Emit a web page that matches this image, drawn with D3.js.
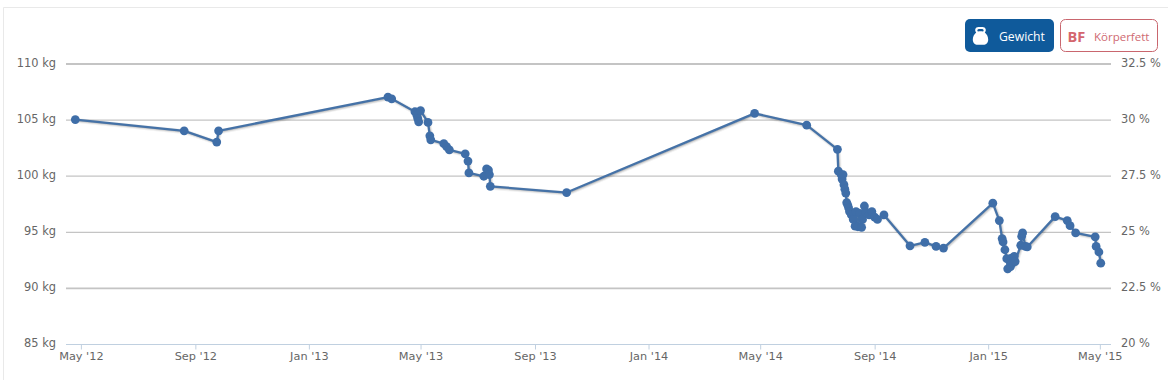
<!DOCTYPE html>
<html><head><meta charset="utf-8">
<script src="https://cdn.jsdelivr.net/npm/d3@7/dist/d3.min.js"></script>
<style>
html,body{margin:0;padding:0;background:#fff;}
svg{display:block;}
text{font-family:"DejaVu Sans",sans-serif;}
</style></head><body>
<svg id="c" width="1168" height="380"></svg>
<script>
const dates = ["2012-04-25","2012-08-20","2012-09-24","2012-09-26","2013-03-27","2013-03-31","2013-04-25","2013-04-27","2013-04-28","2013-04-29","2013-05-01","2013-05-09","2013-05-11","2013-05-12","2013-05-26","2013-05-29","2013-06-01","2013-06-18","2013-06-21","2013-06-22","2013-07-08","2013-07-11","2013-07-13","2013-07-14","2013-07-15","2013-10-05","2014-04-25","2014-06-20","2014-07-23","2014-07-24","2014-07-27","2014-07-28","2014-07-29","2014-07-30","2014-07-31","2014-08-01","2014-08-02","2014-08-03","2014-08-04","2014-08-05","2014-08-07","2014-08-09","2014-08-11","2014-08-12","2014-08-14","2014-08-16","2014-08-18","2014-08-19","2014-08-21","2014-08-22","2014-08-26","2014-08-29","2014-09-01","2014-09-04","2014-09-11","2014-10-09","2014-10-25","2014-11-06","2014-11-14","2015-01-06","2015-01-13","2015-01-16","2015-01-17","2015-01-19","2015-01-21","2015-01-22","2015-01-25","2015-01-26","2015-01-27","2015-01-29","2015-01-30","2015-02-05","2015-02-06","2015-02-07","2015-02-10","2015-02-12","2015-03-14","2015-03-27","2015-03-30","2015-04-05","2015-04-26","2015-04-27","2015-04-30","2015-05-02"];
const weightKg = [105,104,103,104,107,106.85,105.7,105.4,105.1,104.8,105.8,104.75,103.55,103.2,102.85,102.6,102.3,101.95,101.3,100.25,99.95,100.6,100.5,100.1,99.05,98.5,105.55,104.5,102.35,100.4,100.1,99.7,100.1,99.2,98.8,98.45,97.6,97.4,97.15,96.8,96.5,96.1,95.5,96.8,95.45,96.65,95.4,96.1,97.3,96.8,96.5,96.8,96.3,96.1,96.5,93.75,94.05,93.7,93.55,97.55,96,94.4,94.1,93.4,92.6,91.7,91.9,92.65,92.2,92.8,92.35,93.8,94.6,94.9,93.7,93.65,96.35,96,95.55,94.9,94.55,93.7,93.2,92.2];
const kgTicks = [85,90,95,100,105,110];
const pctTicks = [20,22.5,25,27.5,30,32.5];
const buttonLabels = ["Gewicht","Körperfett"];
const badgeLabel = "BF";

const parse = d3.utcParse("%Y-%m-%d");
const fmtMon = d3.utcFormat("%b '%y");
const pts = dates.map((d,i)=>({date:parse(d),kg:weightKg[i]}));

const L=66,R=1111,T=63.5,B=344;
const x = d3.scaleUtc().domain([parse("2012-04-15"),parse("2015-05-13")]).range([L,R]);
const yKg = d3.scaleLinear().domain([85,110]).range([B,T]);
const yPct = d3.scaleLinear().domain([20,32.5]).range([B,T]);

const svg = d3.select("#c");

// outer frame
svg.append("path").attr("d","M3.5,380V7.5H1168").attr("fill","none").attr("stroke","#e9e9e9");

// left axis + grid
const gl = svg.append("g").attr("transform",`translate(${L},0)`)
  .call(d3.axisLeft(yKg).tickValues(kgTicks).tickSize(-(R-L)).tickPadding(10).tickFormat(d=>d+" kg"));
gl.select(".domain").remove();
gl.selectAll("line").attr("stroke","#c4c4c4").attr("stroke-width",d=>d===85?0:(d===110||d===90?1.8:1.3));
gl.selectAll("text").attr("fill","#666").attr("font-size",11.4).attr("dy","0.25em");

// right axis
const gr = svg.append("g").attr("transform",`translate(${R},0)`)
  .call(d3.axisRight(yPct).tickValues(pctTicks).tickSize(0).tickPadding(10).tickFormat(d=>d+" %"));
gr.select(".domain").remove();
gr.selectAll("text").attr("fill","#666").attr("font-size",11.4).attr("dy","0.25em");

// x axis
const gx = svg.append("g").attr("transform",`translate(0,${B+0.5})`)
  .call(d3.axisBottom(x).ticks(d3.utcMonth.every(4)).tickSize(5).tickPadding(2).tickFormat(fmtMon));
gx.select(".domain").attr("stroke","#c0d0e0").attr("d",`M${L},0H${R}`);
gx.selectAll("line").attr("stroke","#c0d0e0");
gx.selectAll("text").attr("fill","#666").attr("font-size",11.3);

// line
const line = d3.line().x(d=>x(d.date)).y(d=>yKg(d.kg));
[[5,.05],[3,.1],[1,.15]].forEach(([w,o])=>{
  svg.append("path").datum(pts).attr("d",line).attr("fill","none")
    .attr("stroke","#000").attr("stroke-opacity",o).attr("stroke-width",w)
    .attr("transform","translate(1,1)");
});
svg.append("path").datum(pts).attr("d",line).attr("fill","none")
  .attr("stroke","#4572a7").attr("stroke-width",2.3).attr("stroke-linejoin","round");
svg.append("g").selectAll("circle").data(pts).join("circle")
  .attr("cx",d=>x(d.date)).attr("cy",d=>yKg(d.kg)).attr("r",4.4).attr("fill","#3f6ea8");

// buttons
const b1 = svg.append("g");
b1.append("rect").attr("x",965).attr("y",19).attr("width",89).attr("height",33).attr("rx",5).attr("fill","#0f5a9b");
b1.append("path").attr("fill","#fff").attr("fill-rule","evenodd")
  .attr("d","M976.2,32.6C975.4,31.6 975,30.4 975.3,29.2C975.7,27.8 977,27 978.4,27H982.6C984,27 985.3,27.8 985.7,29.2C986,30.4 985.6,31.6 984.8,32.6C986.8,34.4 988.2,36.8 988.2,39.4C988.2,42.8 986,44.7 983.4,44.7H977.6C975,44.7 972.8,42.8 972.8,39.4C972.8,36.8 974.2,34.4 976.2,32.6ZM979,28.9C977.4,28.9 976.7,30.8 978,31.6C979.8,31.1 981.2,31.1 983,31.6C984.3,30.8 983.6,28.9 982,28.9Z");
b1.append("text").attr("x",999).attr("y",40.5).attr("fill","#fff").attr("font-size",12.2)
  .style("font-family","'Open Sans',sans-serif").text(buttonLabels[0]);

const b2 = svg.append("g");
b2.append("rect").attr("x",1060.5).attr("y",19.5).attr("width",97).attr("height",32).attr("rx",5).attr("fill","#fff").attr("stroke","#c9666e");
b2.append("text").attr("x",1067.5).attr("y",42).attr("fill","#d4666e").attr("font-size",14.5).attr("font-weight",700)
  .style("font-family","'Open Sans',sans-serif").text(badgeLabel);
b2.append("text").attr("x",1094).attr("y",40.5).attr("fill","#cf6a72").attr("font-size",11.5)
  .style("font-family","'Open Sans',sans-serif").text(buttonLabels[1]);
</script>
</body></html>
